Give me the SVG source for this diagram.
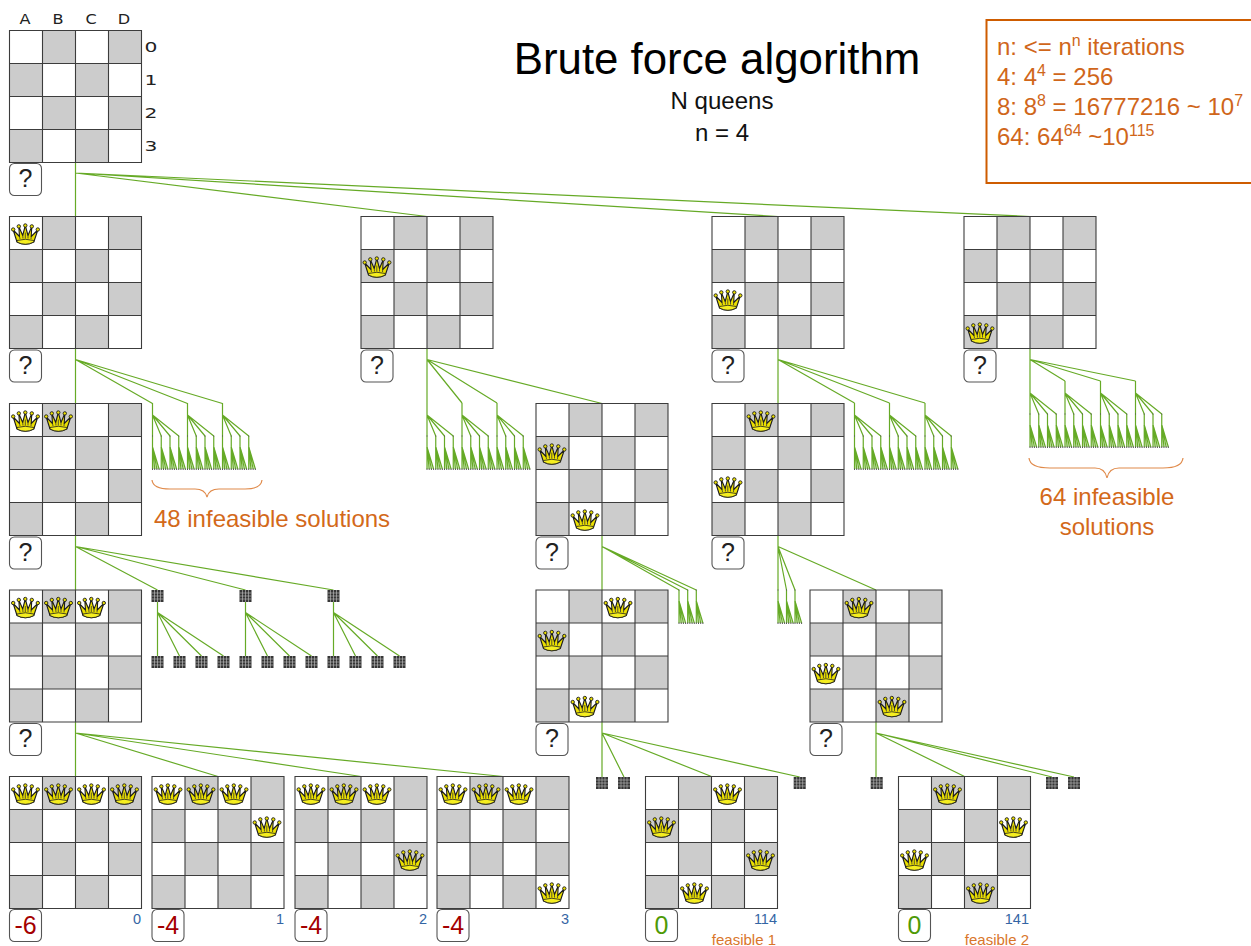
<svg xmlns="http://www.w3.org/2000/svg" xmlns:xlink="http://www.w3.org/1999/xlink" width="1251" height="946" viewBox="0 0 1251 946">
<style>
text{font-family:"Liberation Sans",Arial,sans-serif}
.c{stroke:#66aa26;stroke-width:1.2;fill:none}
.gl{stroke:#3c3c3c;stroke-width:1.1;fill:none}
.sq{fill:#ccc}
.box{fill:#fff;stroke:#555;stroke-width:1.1}
.q{font-size:25px;text-anchor:middle;fill:#222}
.r{font-size:25px;text-anchor:middle;fill:#a40000}
.g{font-size:25px;text-anchor:middle;fill:#4e9a06}
.id{font-size:14.5px;text-anchor:end;fill:#3465a4}
.fe{font-size:15px;text-anchor:end;fill:#d9762b}
.o{fill:#d0661a}
.s{font-size:24px;fill:#d3691a}
.ax{font-family:"DejaVu Sans",sans-serif;font-size:14px;fill:#222;text-anchor:middle}
.sup{font-size:16px}
.dot{fill:#555}
</style>
<defs>
<g id="board">
<rect width="132" height="132" fill="#fff"/>
<path class="sq" d="M33 0h33v33h-33zM99 0h33v33h-33zM0 33h33v33h-33zM66 33h33v33h-33zM33 66h33v33h-33zM99 66h33v33h-33zM0 99h33v33h-33zM66 99h33v33h-33z"/>
<path class="gl" d="M0 0H132V132H0ZM33 0V132M66 0V132M99 0V132M0 33H132M0 66H132M0 99H132"/>
</g>
<g id="crown">
<path d="M6 18.5L2.2 6.5L8.5 13L7.8 3L11.7 12L14.3 2L17 12L20.8 3L20.2 13L26.8 6.5L22.8 18.5Q14.3 23 6 18.5Z" fill="#ebe000" stroke="#1c1c1c" stroke-width="1.1" stroke-linejoin="round"/>
<path d="M6 17Q14.3 14.5 22.8 17L22.8 18.5Q14.3 23 6 18.5Z" fill="#f5ee20" stroke="#1c1c1c" stroke-width="0.8"/>
<path d="M9 15.5L8.5 13M12 15L11.7 12M14.3 15V9M17 15L17 12M20 15.5L20.2 13" stroke="#333" stroke-width="0.8" fill="none"/>
<g fill="#ebe000" stroke="#1c1c1c" stroke-width="0.9">
<circle cx="2.2" cy="6" r="1.7"/><circle cx="7.8" cy="2.9" r="1.7"/><circle cx="14.3" cy="2" r="1.7"/><circle cx="20.8" cy="2.9" r="1.7"/><circle cx="26.8" cy="6" r="1.7"/>
</g>
</g>
<g id="mini">
<rect width="12" height="12" fill="#363636"/>
<path d="M3 0V12M6 0V12M9 0V12M0 3H12M0 6H12M0 9H12" stroke="#c4c4c4" stroke-width="0.6" fill="none"/>
</g>
<g id="fan">
<path class="c" d="M0 0V33M0 11L2.2 33M0 11L4.4 33M0 11L6.6 33"/>
<path d="M0 11L1.1 33M0 11L3.3 33M0 11L5.5 33" stroke="#66aa26" stroke-width="0.6" fill="none" opacity="0.6"/>
<path class="dot" d="M-.5 32.5h1v1.5h-1zM1.7 32.5h1v1.5h-1zM3.9 32.5h1v1.5h-1zM6.1 32.5h1v1.5h-1z"/>
<rect x="-.5" y="-.5" width="1" height="1" class="dot"/>
</g>
<g id="sub">
<path class="c" d="M0 0V33M0 12L8.75 33M0 12L17.5 33M0 12L26.25 33"/>
<use href="#fan" x="0" y="33"/><use href="#fan" x="8.75" y="33"/><use href="#fan" x="17.5" y="33"/><use href="#fan" x="26.25" y="33"/>
</g>
</defs>
<rect width="1251" height="946" fill="#fff"/>

<g id="connectors">
<path class="c" d="M75.5 162V216.5M75.5 173L427 216.5M75.5 173L778 216.5M75.5 173L1030 216.5"/>
<path class="c" d="M75.5 349V403.5M75.5 359.5L152.5 403.5M75.5 359.5L187.5 403.5M75.5 359.5L222.5 403.5"/>
<use href="#sub" x="152.5" y="403"/><use href="#sub" x="187.5" y="403"/><use href="#sub" x="222.5" y="403"/>
<path class="c" d="M427 349V403M427 359.5L462 403M427 359.5L497 403M427 359.5L602 403.5"/>
<use href="#sub" x="427" y="403"/><use href="#sub" x="462" y="403"/><use href="#sub" x="497" y="403"/>
<path class="c" d="M778 349V403.5M778 359.5L854.5 403M778 359.5L889.5 403M778 359.5L925 403"/>
<use href="#sub" x="854.5" y="403"/><use href="#sub" x="889.5" y="403"/><use href="#sub" x="925" y="403"/>
<path class="c" d="M1030 349V381M1030 359.5L1065 381M1030 359.5L1100.5 381M1030 359.5L1135.5 381"/>
<use href="#sub" x="1030" y="381"/><use href="#sub" x="1065" y="381"/><use href="#sub" x="1100.5" y="381"/><use href="#sub" x="1135.5" y="381"/>
<path class="c" d="M75.5 535.5V590M75.5 546.5L157.5 590M75.5 546.5L245.5 590M75.5 546.5L333.5 590"/>
<path class="c" d="M157.5 602V656M157.5 612.5L179.5 656M157.5 612.5L201.5 656M157.5 612.5L223.5 656"/>
<path class="c" d="M245.5 602V656M245.5 612.5L267.5 656M245.5 612.5L289.5 656M245.5 612.5L311.5 656"/>
<path class="c" d="M333.5 602V656M333.5 612.5L355.5 656M333.5 612.5L377.5 656M333.5 612.5L399.5 656"/>
<path class="c" d="M602 535.5V590M602 546.5L679 590M602 546.5L687.7 590M602 546.5L696.3 590"/>
<use href="#fan" x="679" y="590"/><use href="#fan" x="687.7" y="590"/><use href="#fan" x="696.3" y="590"/>
<path class="c" d="M778 535.5V590M778 546.5L786.5 590M778 546.5L795 590M778 546.5L876 590"/>
<use href="#fan" x="778" y="590"/><use href="#fan" x="786.5" y="590"/><use href="#fan" x="795" y="590"/>
<path class="c" d="M75.5 722V776.5M75.5 733L218 776.5M75.5 733L361 776.5M75.5 733L503 776.5"/>
<path class="c" d="M602 722V777M602 733L624 777M602 733L711.5 776.5M602 733L799.7 777"/>
<path class="c" d="M876 722V777M876 733L964.5 776.5M876 733L1052 777M876 733L1074 777"/>
</g>

<g id="title">
<text x="717" y="74" font-size="43.8" text-anchor="middle" fill="#000">Brute force algorithm</text>
<text x="722" y="109" font-size="24" text-anchor="middle" fill="#111" textLength="103" lengthAdjust="spacingAndGlyphs">N queens</text>
<text x="722" y="141" font-size="24" text-anchor="middle" fill="#111">n = 4</text>
</g>

<g id="note">
<rect x="986.5" y="20" width="300" height="163" fill="#fff" stroke="#ce5c00" stroke-width="2"/>
<text class="o" x="997" y="55" font-size="24">n: &lt;= n<tspan class="sup" dy="-9">n</tspan><tspan dy="9"> iterations</tspan></text>
<text class="o" x="997" y="85" font-size="24">4: 4<tspan class="sup" dy="-9">4</tspan><tspan dy="9"> = 256</tspan></text>
<text class="o" x="997" y="115" font-size="24">8: 8<tspan class="sup" dy="-9">8</tspan><tspan dy="9"> = 16777216 ~ 10</tspan><tspan class="sup" dy="-9">7</tspan></text>
<text class="o" x="997" y="145" font-size="24">64: 64<tspan class="sup" dy="-9">64</tspan><tspan dy="9"> ~10</tspan><tspan class="sup" dy="-9">115</tspan></text>
</g>

<g id="n0">
<use href="#board" x="9.5" y="30.5"/>
<text class="ax" transform="translate(25 24) scale(1.15 1)">A</text>
<text class="ax" transform="translate(58 24) scale(1.15 1)">B</text>
<text class="ax" transform="translate(91 24) scale(1.15 1)">C</text>
<text class="ax" transform="translate(124 24) scale(1.15 1)">D</text>
<text class="ax" transform="translate(151 52) scale(1.45 1)">0</text>
<text class="ax" transform="translate(151 85) scale(1.45 1)">1</text>
<text class="ax" transform="translate(151 118) scale(1.45 1)">2</text>
<text class="ax" transform="translate(151 151) scale(1.45 1)">3</text>
<rect class="box" x="9.5" y="163.5" width="32" height="32" rx="5"/><text class="q" x="25.5" y="187">?</text>
</g>

<g id="n1a"><use href="#board" x="9.5" y="216.5"/><use href="#crown" x="11" y="223.5"/>
<rect class="box" x="9.5" y="350" width="32" height="32" rx="5"/><text class="q" x="25.5" y="373.5">?</text></g>
<g id="n1b"><use href="#board" x="361" y="216.5"/><use href="#crown" x="362.5" y="256.5"/>
<rect class="box" x="361" y="350" width="32" height="32" rx="5"/><text class="q" x="377" y="373.5">?</text></g>
<g id="n1c"><use href="#board" x="712" y="216.5"/><use href="#crown" x="713.5" y="289.5"/>
<rect class="box" x="712" y="350" width="32" height="32" rx="5"/><text class="q" x="728" y="373.5">?</text></g>
<g id="n1d"><use href="#board" x="964" y="216.5"/><use href="#crown" x="965.5" y="322.5"/>
<rect class="box" x="964" y="350" width="32" height="32" rx="5"/><text class="q" x="980" y="373.5">?</text></g>

<g id="n2a"><use href="#board" x="9.5" y="403.5"/><use href="#crown" x="11" y="410.5"/><use href="#crown" x="44" y="410.5"/>
<rect class="box" x="9.5" y="537" width="32" height="32" rx="5"/><text class="q" x="25.5" y="560.5">?</text></g>
<g id="n2b"><use href="#board" x="536" y="403.5"/><use href="#crown" x="537.5" y="443.5"/><use href="#crown" x="570.5" y="509.5"/>
<rect class="box" x="536" y="537" width="32" height="32" rx="5"/><text class="q" x="552" y="560.5">?</text></g>
<g id="n2c"><use href="#board" x="712" y="403.5"/><use href="#crown" x="746.5" y="410.5"/><use href="#crown" x="713.5" y="476.5"/>
<rect class="box" x="712" y="537" width="32" height="32" rx="5"/><text class="q" x="728" y="560.5">?</text></g>

<g id="n3a"><use href="#board" x="9.5" y="590"/><use href="#crown" x="11" y="597"/><use href="#crown" x="44" y="597"/><use href="#crown" x="77" y="597"/>
<rect class="box" x="9.5" y="723.5" width="32" height="32" rx="5"/><text class="q" x="25.5" y="747">?</text></g>
<g id="n3b"><use href="#board" x="536" y="590"/><use href="#crown" x="603.5" y="597"/><use href="#crown" x="537.5" y="630"/><use href="#crown" x="570.5" y="696"/>
<rect class="box" x="536" y="723.5" width="32" height="32" rx="5"/><text class="q" x="552" y="747">?</text></g>
<g id="n3c"><use href="#board" x="810" y="590"/><use href="#crown" x="844.5" y="597"/><use href="#crown" x="811.5" y="663"/><use href="#crown" x="877.5" y="696"/>
<rect class="box" x="810" y="723.5" width="32" height="32" rx="5"/><text class="q" x="826" y="747">?</text></g>

<g id="m1"><use href="#mini" x="151.5" y="590"/></g>
<g id="m2"><use href="#mini" x="239.5" y="590"/></g>
<g id="m3"><use href="#mini" x="327.5" y="590"/></g>
<g id="m4"><use href="#mini" x="151.5" y="656"/></g>
<g id="m5"><use href="#mini" x="173.5" y="656"/></g>
<g id="m6"><use href="#mini" x="195.5" y="656"/></g>
<g id="m7"><use href="#mini" x="217.5" y="656"/></g>
<g id="m8"><use href="#mini" x="239.5" y="656"/></g>
<g id="m9"><use href="#mini" x="261.5" y="656"/></g>
<g id="m10"><use href="#mini" x="283.5" y="656"/></g>
<g id="m11"><use href="#mini" x="305.5" y="656"/></g>
<g id="m12"><use href="#mini" x="327.5" y="656"/></g>
<g id="m13"><use href="#mini" x="349.5" y="656"/></g>
<g id="m14"><use href="#mini" x="371.5" y="656"/></g>
<g id="m15"><use href="#mini" x="393.5" y="656"/></g>
<g id="m16"><use href="#mini" x="596" y="777"/></g>
<g id="m17"><use href="#mini" x="618" y="777"/></g>
<g id="m18"><use href="#mini" x="793.7" y="777"/></g>
<g id="m19"><use href="#mini" x="870.7" y="777"/></g>
<g id="m20"><use href="#mini" x="1046" y="777"/></g>
<g id="m21"><use href="#mini" x="1068" y="777"/></g>

<g id="s0"><use href="#board" x="9.5" y="776.5"/><use href="#crown" x="11" y="783.5"/><use href="#crown" x="44" y="783.5"/><use href="#crown" x="77" y="783.5"/><use href="#crown" x="110" y="783.5"/>
<rect class="box" x="9.5" y="909.5" width="32" height="32" rx="5"/><text class="r" x="25.5" y="933.5">-6</text><text class="id" x="141" y="924">0</text></g>
<g id="s1"><use href="#board" x="152" y="776.5"/><use href="#crown" x="153.5" y="783.5"/><use href="#crown" x="186.5" y="783.5"/><use href="#crown" x="219.5" y="783.5"/><use href="#crown" x="252.5" y="816.5"/>
<rect class="box" x="152" y="909.5" width="32" height="32" rx="5"/><text class="r" x="168" y="933.5">-4</text><text class="id" x="284" y="924">1</text></g>
<g id="s2"><use href="#board" x="295" y="776.5"/><use href="#crown" x="296.5" y="783.5"/><use href="#crown" x="329.5" y="783.5"/><use href="#crown" x="362.5" y="783.5"/><use href="#crown" x="395.5" y="849.5"/>
<rect class="box" x="295" y="909.5" width="32" height="32" rx="5"/><text class="r" x="311" y="933.5">-4</text><text class="id" x="427" y="924">2</text></g>
<g id="s3"><use href="#board" x="437" y="776.5"/><use href="#crown" x="438.5" y="783.5"/><use href="#crown" x="471.5" y="783.5"/><use href="#crown" x="504.5" y="783.5"/><use href="#crown" x="537.5" y="882.5"/>
<rect class="box" x="437" y="909.5" width="32" height="32" rx="5"/><text class="r" x="453" y="933.5">-4</text><text class="id" x="569" y="924">3</text></g>
<g id="s114"><use href="#board" x="645.5" y="776.5"/><use href="#crown" x="713" y="783.5"/><use href="#crown" x="647" y="816.5"/><use href="#crown" x="746" y="849.5"/><use href="#crown" x="680" y="882.5"/>
<rect class="box" x="645.5" y="909.5" width="32" height="32" rx="5"/><text class="g" x="661.5" y="933.5">0</text><text class="id" x="777" y="924">114</text><text class="fe" x="776" y="945">feasible 1</text></g>
<g id="s141"><use href="#board" x="898.5" y="776.5"/><use href="#crown" x="933" y="783.5"/><use href="#crown" x="999" y="816.5"/><use href="#crown" x="900" y="849.5"/><use href="#crown" x="966" y="882.5"/>
<rect class="box" x="898.5" y="909.5" width="32" height="32" rx="5"/><text class="g" x="914.5" y="933.5">0</text><text class="id" x="1029" y="924">141</text><text class="fe" x="1029" y="945">feasible 2</text></g>

<g id="brace48">
<path d="M152 480Q153 489 170 489H195Q205 489 207 497Q209 489 219 489H245Q261 489 262 480" fill="none" stroke="#e08a4a" stroke-width="1.2"/>
<text class="s" x="272" y="527" text-anchor="middle">48 infeasible solutions</text>
</g>
<g id="brace64">
<path d="M1029 458Q1030 468 1050 468H1095Q1105 468 1107 478Q1109 468 1119 468H1163Q1182 468 1183 458" fill="none" stroke="#e08a4a" stroke-width="1.2"/>
<text class="s" x="1107" y="505" text-anchor="middle">64 infeasible</text>
<text class="s" x="1107" y="535" text-anchor="middle">solutions</text>
</g>
</svg>
